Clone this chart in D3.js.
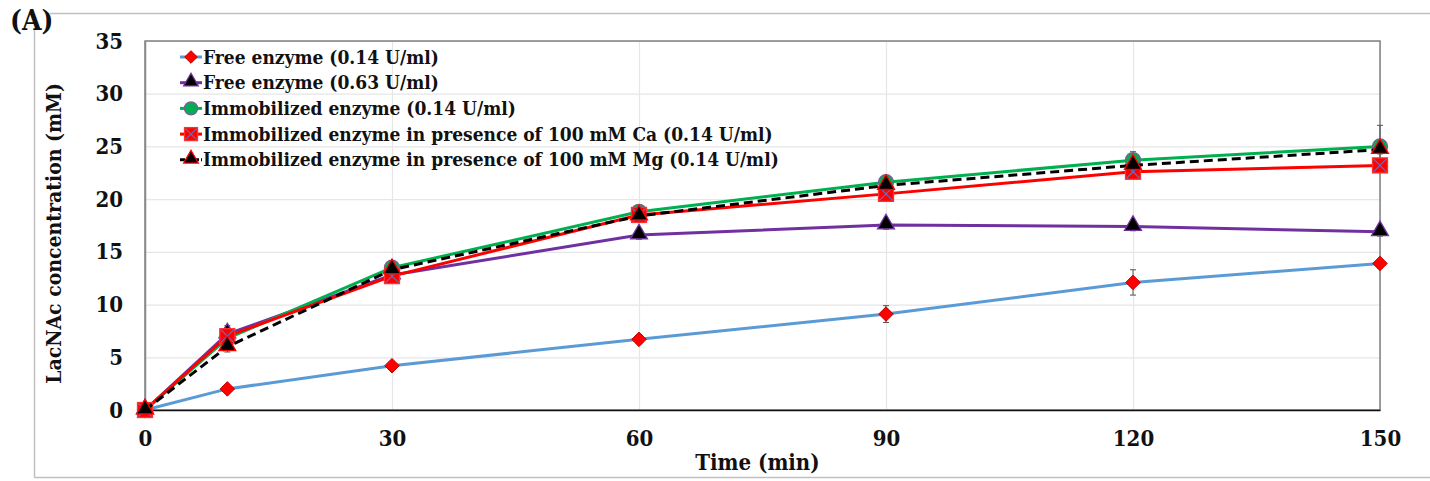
<!DOCTYPE html>
<html>
<head>
<meta charset="utf-8">
<script src="https://cdn.jsdelivr.net/npm/d3@7"></script>
<style>
  body { margin: 0; background: #fff; }
  text { font-family: "DejaVu Serif", serif; font-stretch: condensed; font-weight: bold; fill: #111; }
</style>
</head>
<body>
<div id="chart"></div>
<script>
// time points (min)
const times = [0, 10, 30, 60, 90, 120, 150];

// LacNAc concentration (mM) per series
const free014 = [0, 2.0, 4.2, 6.7, 9.1, 12.1, 13.9];
const free063 = [0, 7.2, 12.8, 16.6, 17.55, 17.4, 16.9];
const immob = [0, 6.8, 13.5, 18.8, 21.6, 23.7, 25.0];
const immobCa = [0, 7.0, 12.7, 18.5, 20.5, 22.6, 23.2];
const immobMg = [0, 6.0, 13.3, 18.4, 21.3, 23.2, 24.7];

// error bars (mM)
const errFree014 = [0, 0.2, 0.3, 0.4, 0.8, 1.2, 0.4];
const errFree063 = [0, 0.8, 0.4, 0.4, 0.4, 0.4, 0.4];
const errImmob = [0, 0.6, 0.4, 0.4, 0.4, 0.8, 2.0];
const errCa = [0, 0.5, 0.4, 0.4, 0.4, 0.4, 0.4];
const errMg = [0, 0.5, 0.4, 0.4, 0.4, 0.4, 0.4];

const seriesNames = [
  "Free enzyme (0.14 U/ml)",
  "Free enzyme (0.63 U/ml)",
  "Immobilized enzyme (0.14 U/ml)",
  "Immobilized enzyme in presence of 100 mM Ca (0.14 U/ml)",
  "Immobilized enzyme in presence of 100 mM Mg (0.14 U/ml)"
];

const xTicks = [0, 30, 60, 90, 120, 150];
const yTicks = [0, 5, 10, 15, 20, 25, 30, 35];

const series = [
  { name: seriesNames[0], values: free014, err: errFree014, line: "#5B9BD5", dash: null, marker: "diamond", fill: "#FF0000", stroke: "#C00000" },
  { name: seriesNames[1], values: free063, err: errFree063, line: "#7030A0", dash: null, marker: "triangle", fill: "#000000", stroke: "#7030A0" },
  { name: seriesNames[2], values: immob, err: errImmob, line: "#00B050", dash: null, marker: "circle", fill: "#00B050", stroke: "#7a5a9a" },
  { name: seriesNames[3], values: immobCa, err: errCa, line: "#FF0000", dash: null, marker: "squarex", fill: "#FF0000", stroke: "#ff3030" },
  { name: seriesNames[4], values: immobMg, err: errMg, line: "#000000", dash: "9,5", marker: "triangle", fill: "#000000", stroke: "#FF0000" }
];

const W = 1430, H = 481;
const margin = { top: 41, right: 50, bottom: 71, left: 145 };
const width = W - margin.left - margin.right,
  height = H - margin.top - margin.bottom;

const svg = d3.select("#chart").append("svg")
  .attr("width", W)
  .attr("height", H);

// outer frame pieces
svg.append("line").attr("x1", 50).attr("x2", W).attr("y1", 13.5).attr("y2", 13.5).attr("stroke", "#c0c0c0").attr("stroke-width", 1.5);
svg.append("line").attr("x1", 34.5).attr("x2", 34.5).attr("y1", 30).attr("y2", 477).attr("stroke", "#c0c0c0").attr("stroke-width", 1.5);
svg.append("line").attr("x1", 34).attr("x2", W).attr("y1", 477.5).attr("y2", 477.5).attr("stroke", "#c0c0c0").attr("stroke-width", 1.5);

svg.append("text")
  .attr("x", 10).attr("y", 30)
  .style("font-size", "28px")
  .text("(A)");

const g = svg.append("g")
  .attr("transform", "translate(" + margin.left + "," + margin.top + ")");

const x = d3.scaleLinear().domain([0, 150]).range([0, width]);
const y = d3.scaleLinear().domain([0, 35]).range([height, 0]);

// gridlines
g.append("g")
  .call(d3.axisLeft(y).tickValues(yTicks).tickSize(-width).tickFormat(""))
  .call(a => a.select(".domain").remove())
  .call(a => a.selectAll("line").attr("stroke", "#e6e6e6").attr("stroke-width", 1.2));
g.append("g")
  .call(d3.axisBottom(x).tickValues(xTicks).tickSize(height).tickFormat(""))
  .call(a => a.select(".domain").remove())
  .call(a => a.selectAll("line").attr("stroke", "#e6e6e6").attr("stroke-width", 1.2));

// plot box
g.append("rect")
  .attr("width", width).attr("height", height)
  .attr("fill", "none").attr("stroke", "#808080").attr("stroke-width", 1.5);

// axes
const xAxis = g.append("g")
  .attr("transform", "translate(0," + height + ")")
  .call(d3.axisBottom(x).tickValues(xTicks).tickSize(0).tickPadding(20));
xAxis.select(".domain").attr("stroke", "#111").attr("stroke-width", 1.5);
xAxis.selectAll("text").style("font-size", "22px");

const yAxis = g.append("g")
  .call(d3.axisLeft(y).tickValues(yTicks).tickSize(0).tickPadding(22));
yAxis.select(".domain").attr("stroke", "#8a8a8a").attr("stroke-width", 1.5);
yAxis.selectAll("text").style("font-size", "22px");

// axis titles
svg.append("text")
  .attr("x", margin.left + width / 2 - 5).attr("y", 470)
  .attr("text-anchor", "middle")
  .style("font-size", "22px")
  .text("Time (min)");

svg.append("text")
  .attr("transform", "translate(61," + (margin.top + height / 2 + 8) + ") rotate(-90)")
  .attr("text-anchor", "middle")
  .style("font-size", "21px")
  .text("LacNAc concentration (mM)");

// marker drawing
function drawMarker(sel, s, size) {
  if (s.marker === "diamond") {
    sel.append("path").attr("d", d3.symbol(d3.symbolDiamond2, size * size * 0.6)())
      .attr("fill", s.fill).attr("stroke", s.stroke).attr("stroke-width", 1);
  } else if (s.marker === "triangle") {
    sel.append("path").attr("d", d3.symbol(d3.symbolTriangle, size * size * 0.55)())
      .attr("transform", "translate(0,-1)")
      .attr("fill", s.fill).attr("stroke", s.stroke).attr("stroke-width", 1.3);
  } else if (s.marker === "circle") {
    sel.append("circle").attr("r", size / 2)
      .attr("fill", s.fill).attr("stroke", s.stroke).attr("stroke-width", 1.3);
  } else if (s.marker === "squarex") {
    const h = size / 2;
    sel.append("rect").attr("x", -h).attr("y", -h).attr("width", size).attr("height", size)
      .attr("fill", s.fill).attr("stroke", s.stroke).attr("stroke-width", 1.3);
    sel.append("path").attr("d", "M" + (-h + 1) + "," + (-h + 1) + "L" + (h - 1) + "," + (h - 1) + "M" + (h - 1) + "," + (-h + 1) + "L" + (-h + 1) + "," + (h - 1))
      .attr("stroke", "#6070c0").attr("stroke-width", 1.2);
  }
}

const line = d3.line()
  .x((d, i) => x(times[i]))
  .y(d => y(d));

series.forEach(s => {
  const sg = g.append("g");
  // error bars
  const eb = sg.selectAll(".err")
    .data(s.values.map((v, i) => ({ t: times[i], v: v, e: s.err[i] })).filter(d => d.e > 0))
    .join("g");
  eb.append("line")
    .attr("x1", d => x(d.t)).attr("x2", d => x(d.t))
    .attr("y1", d => y(d.v - d.e)).attr("y2", d => y(d.v + d.e))
    .attr("stroke", "#555").attr("stroke-width", 1);
  eb.selectAll(".cap").data(d => [d.v - d.e, d.v + d.e].map(yy => ({ t: d.t, yy: yy })))
    .join("line")
    .attr("x1", d => x(d.t) - 3).attr("x2", d => x(d.t) + 3)
    .attr("y1", d => y(d.yy)).attr("y2", d => y(d.yy))
    .attr("stroke", "#555").attr("stroke-width", 1);

  sg.append("path")
    .datum(s.values)
    .attr("d", line)
    .attr("fill", "none")
    .attr("stroke", s.line)
    .attr("stroke-width", 3)
    .attr("stroke-dasharray", s.dash);

  sg.selectAll(".pt")
    .data(s.values)
    .join("g")
    .attr("transform", (d, i) => "translate(" + x(times[i]) + "," + y(d) + ")")
    .each(function () { drawMarker(d3.select(this), s, 15); });
});

// legend
const legend = svg.append("g")
  .attr("transform", "translate(180,57)");
series.forEach((s, i) => {
  const lg = legend.append("g").attr("transform", "translate(0," + i * 25.7 + ")");
  lg.append("line").attr("x1", 0).attr("x2", 22).attr("y1", 0).attr("y2", 0)
    .attr("stroke", s.line).attr("stroke-width", 3).attr("stroke-dasharray", s.dash ? "5,2" : null);
  const mg = lg.append("g").attr("transform", "translate(11,0)");
  drawMarker(mg, s, 13);
  lg.append("text")
    .attr("x", 23).attr("y", 0).attr("dy", "0.35em")
    .style("font-size", "19px")
    .text(s.name);
});
</script>
</body>
</html>
